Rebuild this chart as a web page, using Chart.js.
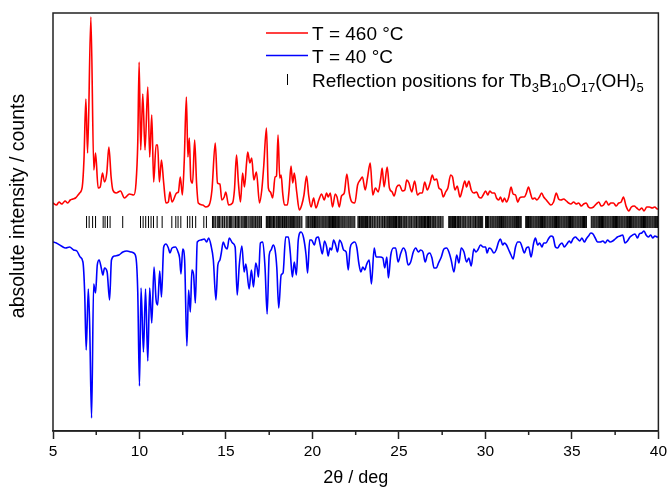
<!DOCTYPE html>
<html><head><meta charset="utf-8">
<script src="https://cdn.jsdelivr.net/npm/chart.js@4/dist/chart.umd.min.js"></script>
<style>html,body{margin:0;padding:0;background:#fff}#wrap{width:670px;height:489px;position:relative}</style>
</head><body><div id="wrap"><canvas id="c"></canvas></div>
<script>
const FONT = '"Liberation Sans", Arial, Helvetica, sans-serif';

// [2theta, plotted intensity] for T = 460 °C (offset upwards)
const red460 = [[5.00,228],[5.20,226],[5.35,229],[5.50,227],[5.58,228],[5.70,230],[5.85,228],[6.00,231],[6.15,232],[6.30,233],[6.45,236],[6.54,238],[6.69,244],[6.79,271],[6.90,332],[7.00,278],[7.19,414],[7.36,261],[7.46,278],[7.61,243],[7.73,244],[7.86,258],[7.98,249],[8.11,258],[8.23,284],[8.36,254],[8.46,241],[8.65,238],[8.90,240],[9.13,233],[9.42,237],[9.67,236],[9.80,248],[9.90,288],[9.98,369],[10.07,281],[10.19,337],[10.32,281],[10.48,344],[10.59,274],[10.71,316],[10.82,249],[10.96,286],[11.05,286],[11.15,249],[11.27,271],[11.40,248],[11.53,228],[11.67,229],[11.76,239],[11.88,229],[12.15,238],[12.25,239],[12.36,254],[12.48,236],[12.59,271],[12.71,334],[12.80,274],[12.88,293],[12.97,251],[13.07,248],[13.19,291],[13.30,248],[13.40,228],[13.65,226],[13.84,224],[14.03,226],[14.19,241],[14.38,288],[14.51,248],[14.65,247],[14.76,231],[14.90,234],[14.99,239],[15.15,226],[15.38,228],[15.49,241],[15.61,276],[15.72,248],[15.84,229],[15.96,258],[16.07,244],[16.19,268],[16.26,279],[16.38,268],[16.49,273],[16.61,251],[16.76,259],[16.94,228],[17.07,241],[17.18,264],[17.34,303],[17.45,243],[17.57,239],[17.70,233],[17.84,254],[17.92,255],[18.01,296],[18.11,253],[18.19,256],[18.28,238],[18.38,226],[18.55,226],[18.65,241],[18.76,265],[18.86,248],[18.95,258],[19.09,239],[19.24,221],[19.38,226],[19.51,236],[19.66,255],[19.78,236],[19.92,224],[20.07,233],[20.20,223],[20.37,231],[20.53,237],[20.68,231],[20.82,238],[20.91,234],[21.03,238],[21.16,224],[21.32,237],[21.42,234],[21.55,224],[21.68,235],[21.84,238],[21.99,257],[22.13,238],[22.28,229],[22.45,228],[22.61,246],[22.76,251],[22.89,254],[23.05,241],[23.18,253],[23.34,268],[23.49,236],[23.64,243],[23.80,239],[23.95,253],[24.03,263],[24.14,244],[24.32,264],[24.45,243],[24.61,239],[24.72,235],[24.87,244],[25.03,246],[25.20,240],[25.34,241],[25.45,251],[25.58,248],[25.74,239],[25.91,250],[26.07,236],[26.22,238],[26.35,238],[26.49,249],[26.64,241],[26.80,248],[26.93,256],[27.04,251],[27.18,252],[27.31,243],[27.45,241],[27.56,234],[27.70,239],[27.83,243],[27.99,256],[28.10,254],[28.24,241],[28.37,245],[28.53,234],[28.66,241],[28.81,250],[28.91,244],[29.04,250],[29.18,241],[29.33,238],[29.49,239],[29.62,234],[29.75,233],[29.87,236],[30.01,240],[30.14,236],[30.25,240],[30.39,238],[30.53,238],[30.64,233],[30.77,231],[30.87,234],[30.99,229],[31.10,233],[31.22,229],[31.35,234],[31.48,244],[31.60,237],[31.74,236],[31.87,229],[31.98,233],[32.12,234],[32.25,234],[32.37,238],[32.49,244],[32.60,238],[32.72,232],[32.85,233],[32.98,231],[33.12,234],[33.25,238],[33.37,234],[33.52,231],[33.66,228],[33.79,226],[33.94,229],[34.10,238],[34.23,232],[34.37,231],[34.52,232],[34.68,230],[34.81,228],[34.94,227],[35.10,229],[35.25,227],[35.39,228],[35.54,225],[35.68,227],[35.83,228],[35.96,224],[36.10,223],[36.25,224],[36.41,227],[36.56,229],[36.69,225],[36.83,226],[36.98,230],[37.12,226],[37.25,228],[37.40,228],[37.56,225],[37.71,228],[37.85,229],[37.98,234],[38.13,225],[38.29,220],[38.44,224],[38.60,225],[38.75,223],[38.89,221],[39.04,223],[39.17,220],[39.33,224],[39.48,224],[39.64,223],[39.79,224],[39.94,222],[40.00,222]];

// [2theta, plotted intensity] for T = 40 °C (drawn inverted below)
const blue40 = [[5.00,189],[5.19,188],[5.48,185],[5.73,183],[5.96,184],[6.19,181],[6.38,180],[6.57,174],[6.73,169],[6.83,139],[6.92,81],[7.04,142],[7.12,106],[7.23,13],[7.35,147],[7.46,138],[7.56,166],[7.67,171],[7.79,163],[7.88,156],[7.98,163],[8.13,159],[8.27,131],[8.38,171],[8.56,175],[8.81,176],[9.04,179],[9.27,180],[9.52,179],[9.67,178],[9.80,173],[9.90,139],[10.00,45],[10.09,143],[10.23,79],[10.35,142],[10.48,70],[10.59,143],[10.71,108],[10.84,164],[10.96,131],[11.05,126],[11.17,160],[11.27,134],[11.40,184],[11.53,187],[11.67,183],[11.76,178],[11.88,183],[12.08,184],[12.23,179],[12.32,173],[12.40,157],[12.50,182],[12.61,171],[12.74,85],[12.84,141],[12.94,119],[13.03,161],[13.13,156],[13.23,128],[13.34,189],[13.55,191],[13.75,192],[13.88,189],[14.00,193],[14.13,186],[14.27,171],[14.42,131],[14.53,166],[14.65,171],[14.73,178],[14.84,189],[14.96,184],[15.07,182],[15.19,193],[15.38,188],[15.53,184],[15.65,136],[15.77,166],[15.92,185],[16.05,159],[16.15,167],[16.34,142],[16.47,161],[16.59,144],[16.72,168],[16.80,163],[16.88,154],[16.99,188],[17.13,189],[17.26,163],[17.38,117],[17.50,176],[17.61,181],[17.73,186],[17.84,181],[17.94,163],[18.05,123],[18.19,156],[18.30,158],[18.45,194],[18.61,194],[18.72,178],[18.84,154],[18.95,169],[19.07,156],[19.18,191],[19.34,199],[19.49,193],[19.63,176],[19.72,158],[19.84,191],[19.95,191],[20.11,186],[20.22,193],[20.34,194],[20.45,186],[20.57,177],[20.70,190],[20.82,184],[20.91,175],[21.01,183],[21.11,181],[21.22,191],[21.34,186],[21.45,179],[21.57,191],[21.68,188],[21.80,181],[21.95,179],[22.07,161],[22.18,183],[22.32,188],[22.45,189],[22.57,183],[22.68,168],[22.80,159],[22.91,164],[23.03,161],[23.12,166],[23.28,171],[23.41,147],[23.57,183],[23.68,174],[23.80,174],[23.91,174],[24.07,173],[24.18,163],[24.30,174],[24.39,153],[24.53,176],[24.68,183],[24.81,183],[24.95,169],[25.11,178],[25.26,183],[25.39,179],[25.53,166],[25.68,169],[25.83,179],[25.97,183],[26.12,179],[26.26,181],[26.39,179],[26.52,169],[26.64,176],[26.78,178],[26.91,173],[27.03,163],[27.16,163],[27.29,168],[27.45,174],[27.60,182],[27.76,183],[27.89,179],[28.02,171],[28.18,159],[28.34,176],[28.47,168],[28.60,183],[28.76,179],[28.91,169],[29.04,173],[29.18,165],[29.33,182],[29.45,179],[29.56,181],[29.72,186],[29.87,184],[30.01,184],[30.10,178],[30.21,183],[30.33,182],[30.49,178],[30.62,181],[30.76,189],[30.87,192],[31.00,186],[31.10,188],[31.22,186],[31.35,181],[31.48,176],[31.60,172],[31.74,184],[31.87,189],[32.00,189],[32.12,184],[32.25,178],[32.37,183],[32.50,184],[32.64,174],[32.79,188],[32.89,193],[33.02,186],[33.14,188],[33.27,184],[33.37,188],[33.50,188],[33.64,192],[33.79,195],[33.91,194],[34.05,184],[34.18,183],[34.29,186],[34.43,188],[34.56,184],[34.71,187],[34.85,190],[34.94,188],[35.06,192],[35.20,194],[35.33,192],[35.45,190],[35.58,193],[35.72,189],[35.83,192],[35.96,195],[36.10,198],[36.22,197],[36.35,193],[36.48,189],[36.64,189],[36.79,190],[36.93,188],[37.06,191],[37.21,189],[37.36,190],[37.50,192],[37.63,194],[37.79,195],[37.94,196],[38.07,188],[38.21,190],[38.36,194],[38.51,196],[38.65,197],[38.79,193],[38.90,197],[39.04,198],[39.17,200],[39.29,196],[39.42,194],[39.56,196],[39.67,193],[39.80,195],[39.94,194],[40.00,194]];

// reflection positions (2theta) for Tb3B10O17(OH)5
const reflections = [6.94,7.09,7.29,7.46,7.90,8.01,8.15,8.30,9.03,10.06,10.21,10.36,10.52,10.67,10.81,11.02,11.31,11.87,12.10,12.23,12.39,12.77,12.91,13.06,13.25,13.72,13.87,
14.22,14.27,14.36,14.41,14.50,14.58,14.62,14.71,14.79,14.83,14.92,15.01,15.06,15.12,15.21,15.27,15.31,15.40,15.47,15.55,15.59,15.68,15.73,15.80,15.88,15.93,15.99,16.05,16.09,16.14,16.18,16.27,16.33,16.40,16.46,16.52,16.57,16.63,16.70,16.74,16.81,16.86,16.93,16.98,17.05,
17.33,17.36,17.41,17.47,17.52,17.56,17.60,17.65,17.71,17.75,17.79,17.83,17.90,17.94,18.00,18.03,18.08,18.12,18.17,18.23,18.27,18.34,18.38,18.43,18.49,18.52,18.58,18.63,18.69,18.74,18.78,18.84,18.90,18.95,19.00,19.06,19.12,19.17,19.23,19.27,19.34,19.39,
19.63,19.69,19.74,19.78,19.85,19.90,19.96,20.01,20.05,20.12,20.17,20.22,20.28,20.33,20.39,20.44,20.50,20.56,20.61,20.66,20.72,20.77,20.83,20.89,20.94,20.99,21.05,21.11,21.16,21.22,21.27,21.33,21.38,21.44,21.50,21.55,21.60,21.66,21.72,21.77,21.83,21.88,21.94,22.00,22.06,22.11,22.17,22.22,22.28,22.34,22.40,22.45,
22.63,22.68,22.72,22.79,22.83,22.90,22.96,23.00,23.07,23.13,23.18,23.22,23.29,23.35,23.39,23.46,23.50,23.57,23.61,23.67,23.74,23.78,23.85,23.89,23.96,24.02,24.06,24.13,24.17,24.24,24.30,24.35,24.41,24.45,24.52,24.58,24.62,24.69,24.75,24.80,24.86,24.90,24.97,25.03,25.08,25.14,25.18,25.25,25.31,25.36,25.42,25.46,25.53,25.59,25.64,25.70,25.74,25.81,25.87,25.92,25.98,26.02,26.09,26.15,26.20,26.26,26.30,26.37,26.43,26.48,26.54,26.58,26.65,26.71,26.76,26.82,26.86,26.93,26.99,27.04,27.10,27.14,27.21,27.27,27.32,27.38,27.42,27.49,27.55,
27.88,27.93,27.99,28.03,28.10,28.16,28.21,28.27,28.31,28.38,28.44,28.49,28.55,28.59,28.66,28.72,28.77,28.83,28.87,28.94,29.00,29.05,29.11,29.15,29.22,29.28,29.33,29.39,29.43,29.50,29.56,29.61,29.67,29.71,29.78,29.84,
30.01,30.06,30.12,30.17,30.21,30.28,30.33,30.39,30.44,30.49,30.55,30.60,30.66,30.71,30.77,30.82,30.88,30.93,30.98,31.04,31.09,31.15,31.20,31.26,31.31,31.37,31.42,31.47,31.53,31.58,31.64,31.69,31.75,31.80,31.86,31.91,31.96,32.02,32.07,
32.33,32.38,32.43,32.49,32.54,32.60,32.65,32.70,32.76,32.81,32.87,32.92,32.97,33.03,33.08,33.14,33.19,33.24,33.30,33.35,33.41,33.46,33.51,33.57,33.62,33.68,33.73,33.78,33.84,33.89,33.95,34.00,34.05,34.11,34.16,34.22,34.27,34.32,34.38,34.43,34.49,34.54,34.59,34.65,34.70,34.76,34.81,34.86,34.92,34.97,35.03,35.08,35.13,35.19,35.24,35.30,35.35,35.40,35.46,35.51,35.57,35.62,35.67,35.73,35.78,35.84,
36.12,36.17,36.23,36.28,36.33,36.39,36.44,36.50,36.55,36.60,36.66,36.71,36.77,36.82,36.87,36.93,36.98,37.04,37.09,37.14,37.20,37.25,37.31,37.36,37.41,37.47,37.52,37.58,37.63,37.68,37.74,37.79,37.85,37.90,37.95,38.01,38.06,38.12,38.17,38.22,38.28,38.33,38.39,38.44,38.49,38.55,38.60,38.66,38.71,38.76,38.82,38.87,38.93,38.98,39.03,39.09,39.14,39.20,39.25,39.30,39.36,39.41,39.47,39.52,39.57,39.63,39.68,39.74,39.79,39.84,39.90,39.95];
const reflectionLevel = 209;

const majorTicks = [5,10,15,20,25,30,35,40];
const minorTicks = [7.5,12.5,17.5,22.5,27.5,32.5,37.5];
const legendRed = 'T = 460 °C';
const legendBlue = 'T = 40 °C';
const legendRefl = [['Reflection positions for Tb',0],['3',1],['B',0],['10',1],['O',0],['17',1],['(OH)',0],['5',1]];
const yTitle = 'absolute intensity / counts';
const xTitle = '2θ / deg';

const toPts = a => a.map(p => ({x: p[0], y: p[1]}));

const framePlugin = {
  id: 'frame',
  afterDraw(chart) {
    const {ctx, chartArea: a, scales: {x}} = chart;
    ctx.save();
    ctx.strokeStyle = '#222';
    ctx.lineWidth = 1.5;
    ctx.strokeRect(a.left, a.top, a.right - a.left, a.bottom - a.top);
    ctx.beginPath();
    for (const v of minorTicks) {
      const px = x.getPixelForValue(v);
      ctx.moveTo(px, a.bottom); ctx.lineTo(px, a.bottom + 4);
    }
    ctx.stroke();
    // y axis title
    ctx.save();
    ctx.translate(19, 206);
    ctx.rotate(-Math.PI / 2);
    ctx.fillStyle = '#000';
    ctx.font = '19.5px ' + FONT;
    ctx.textAlign = 'center';
    ctx.textBaseline = 'middle';
    ctx.fillText(yTitle, 0, 0);
    ctx.restore();
    // legend
    const lx0 = 266, lx1 = 308, tx = 312;
    ctx.lineWidth = 1.5;
    ctx.strokeStyle = '#ff0000';
    ctx.beginPath(); ctx.moveTo(lx0, 33); ctx.lineTo(lx1, 33); ctx.stroke();
    ctx.strokeStyle = '#0000ff';
    ctx.beginPath(); ctx.moveTo(lx0, 55.5); ctx.lineTo(lx1, 55.5); ctx.stroke();
    ctx.strokeStyle = '#000'; ctx.lineWidth = 1;
    ctx.beginPath(); ctx.moveTo(287.5, 74); ctx.lineTo(287.5, 85); ctx.stroke();
    ctx.fillStyle = '#000';
    ctx.textBaseline = 'alphabetic';
    ctx.textAlign = 'left';
    ctx.font = '19px ' + FONT;
    ctx.fillText(legendRed, tx, 39.5);
    ctx.fillText(legendBlue, tx, 62.5);
    let x0 = tx;
    for (const [t, sub] of legendRefl) {
      ctx.font = (sub ? '13px ' : '19px ') + FONT;
      ctx.fillText(t, x0, sub ? 92 : 86.5);
      x0 += ctx.measureText(t).width;
    }
    ctx.restore();
  }
};

new Chart(document.getElementById('c'), {
  type: 'line',
  data: {
    datasets: [
      {label: legendRed, data: toPts(red460), borderColor: '#ff0000', borderWidth: 1.6, pointRadius: 0, cubicInterpolationMode: 'monotone'},
      {label: legendBlue, data: toPts(blue40), borderColor: '#0000ff', borderWidth: 1.6, pointRadius: 0, cubicInterpolationMode: 'monotone'},
      {type: 'scatter', label: 'Reflection positions', data: reflections.map(v => ({x: v, y: reflectionLevel})),
       pointStyle: 'line', rotation: 90, pointRadius: 6, pointHoverRadius: 6, borderColor: '#000', backgroundColor: '#000', borderWidth: 1, showLine: false}
    ]
  },
  options: {
    responsive: true, maintainAspectRatio: false, animation: false,
    layout: {padding: {top: 13, right: 10, left: 0, bottom: 0}},
    plugins: {legend: {display: false}, tooltip: {enabled: false}},
    scales: {
      x: {
        type: 'linear', min: 5, max: 40,
        afterBuildTicks: s => { s.ticks = majorTicks.map(v => ({value: v})); },
        ticks: {color: '#000', font: {family: FONT, size: 15.5}, padding: 3, maxRotation: 0},
        grid: {display: true, drawOnChartArea: false, drawTicks: true, tickLength: 8, tickColor: '#222', tickWidth: 1.5},
        border: {display: true, color: '#222', width: 1.5},
        title: {display: true, text: xTitle, color: '#000', font: {family: FONT, size: 18}, padding: 0},
        afterFit: s => { s.height = 58; }
      },
      y: {
        min: 0, max: 418,
        ticks: {display: false},
        grid: {display: false},
        border: {display: false},
        title: {display: false},
        afterFit: s => { s.width = 53; }
      }
    }
  },
  plugins: [framePlugin]
});
</script></body></html>
